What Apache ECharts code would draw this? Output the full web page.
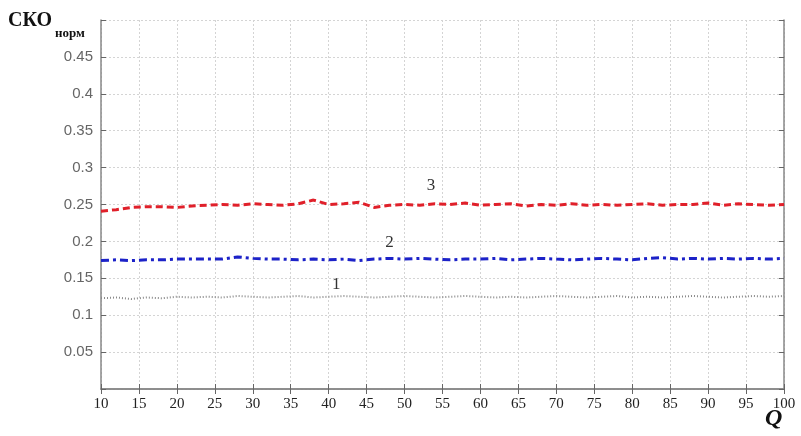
<!DOCTYPE html>
<html>
<head>
<meta charset="utf-8">
<script src="https://cdn.jsdelivr.net/npm/echarts@6/dist/echarts.min.js"></script>
<style>
  html, body { margin: 0; padding: 0; background: #fff; }
  #main { width: 801px; height: 436px; }
</style>
</head>
<body>
<div id="main"></div>
<script>
// значения Q
var qValues = [10, 12, 14, 16, 18, 20, 22, 24, 26, 28, 30, 32, 34, 36, 38, 40, 42, 44, 46, 48,
  50, 52, 54, 56, 58, 60, 62, 64, 66, 68, 70, 72, 74, 76, 78, 80, 82, 84, 86, 88,
  90, 92, 94, 96, 98, 100];
// кривая 1
var curve1 = [0.123, 0.124, 0.122, 0.124, 0.123, 0.125, 0.124, 0.125, 0.124, 0.126, 0.125, 0.124,
  0.125, 0.126, 0.124, 0.125, 0.126, 0.125, 0.124, 0.125, 0.126, 0.125, 0.124, 0.125, 0.126,
  0.125, 0.124, 0.125, 0.124, 0.125, 0.126, 0.125, 0.124, 0.125, 0.126, 0.124, 0.125, 0.124,
  0.125, 0.126, 0.125, 0.124, 0.125, 0.126, 0.125, 0.126];
// кривая 2
var curve2 = [0.174, 0.175, 0.174, 0.175, 0.175, 0.176, 0.176, 0.176, 0.176, 0.179, 0.177, 0.176,
  0.176, 0.175, 0.176, 0.175, 0.176, 0.174, 0.176, 0.177, 0.176, 0.177, 0.176, 0.175, 0.176,
  0.176, 0.177, 0.175, 0.176, 0.177, 0.176, 0.175, 0.176, 0.177, 0.176, 0.175, 0.177, 0.178,
  0.176, 0.177, 0.176, 0.177, 0.176, 0.177, 0.176, 0.177];
// кривая 3
var curve3 = [0.241, 0.243, 0.246, 0.247, 0.247, 0.246, 0.248, 0.249, 0.250, 0.249, 0.251, 0.250,
  0.249, 0.251, 0.256, 0.250, 0.251, 0.253, 0.246, 0.249, 0.250, 0.249, 0.251, 0.250, 0.252,
  0.249, 0.250, 0.251, 0.248, 0.250, 0.249, 0.251, 0.249, 0.250, 0.249, 0.250, 0.251, 0.249,
  0.250, 0.250, 0.252, 0.249, 0.251, 0.250, 0.249, 0.250];
var curveNames = ['1', '2', '3'];
// подписи кривых [Q, СКО]
var labelPos = [[41, 0.141], [48, 0.199], [53.5, 0.276]];

function pairs(ys) {
  return qValues.map(function (q, i) { return [q, ys[i]]; });
}

var font = '"Liberation Serif", "DejaVu Serif", serif';
var sans = '"Liberation Sans", Arial, sans-serif';
var axisLine = { show: true, lineStyle: { color: '#888', width: 1.5 } };
var axisTick = { show: true, inside: true, length: 5, lineStyle: { color: '#666' } };
var split = { show: true, lineStyle: { color: '#d4d4d4', type: [2, 2], width: 1 } };

function markFor(i) {
  return {
    silent: true,
    symbol: 'circle',
    symbolSize: 0,
    label: { show: true, position: 'inside', formatter: curveNames[i],
      fontFamily: font, fontSize: 17, color: '#333' },
    data: [{ coord: labelPos[i] }]
  };
}

var myChart = echarts.init(document.getElementById('main'));
var option = {
  animation: false,
  grid: { left: 101, right: 17, top: 20, bottom: 47 },
  xAxis: [{
    type: 'value', min: 10, max: 100, interval: 5,
    axisLine: axisLine, axisTick: axisTick, splitLine: split,
    axisLabel: { fontFamily: font, fontSize: 15, color: '#222', margin: 8 }
  }, {
    type: 'value', position: 'top', min: 10, max: 100, interval: 5,
    axisLine: axisLine, axisTick: axisTick, splitLine: { show: false },
    axisLabel: { show: false }
  }],
  yAxis: [{
    type: 'value', min: 0, max: 0.5, interval: 0.05,
    axisLine: axisLine, axisTick: axisTick, splitLine: split,
    axisLabel: {
      fontFamily: sans, fontSize: 15, color: '#666', margin: 8,
      formatter: function (v) {
        if (v < 0.01 || v > 0.49) return '';
        return String(+v.toFixed(2));
      }
    }
  }, {
    type: 'value', position: 'right', min: 0, max: 0.5, interval: 0.05,
    axisLine: axisLine, axisTick: axisTick, splitLine: { show: false },
    axisLabel: { show: false }
  }],
  graphic: [{
    type: 'text', left: 8, top: 11,
    style: {
      text: '{a|СКО}{b|норм}',
      rich: {
        a: { fontFamily: font, fontSize: 20, fontWeight: 'bold', fill: '#111' },
        b: { fontFamily: font, fontSize: 13, fontWeight: 'bold', fill: '#111', padding: [26, 0, 0, 3] }
      }
    }
  }, {
    type: 'text', left: 765, top: 407,
    style: { text: 'Q', fontFamily: font, fontSize: 24, fontWeight: 'bold', fontStyle: 'italic', fill: '#111' }
  }],
  series: [{
    name: '1', type: 'line', data: pairs(curve1), symbol: 'none',
    lineStyle: { color: '#8a8a8a', width: 2, type: [1, 2] },
    markPoint: markFor(0)
  }, {
    name: '2', type: 'line', data: pairs(curve2), symbol: 'none',
    lineStyle: { color: '#1c22c8', width: 3, type: [8, 4, 3, 4] },
    markPoint: markFor(1)
  }, {
    name: '3', type: 'line', data: pairs(curve3), symbol: 'none',
    lineStyle: { color: '#e0202a', width: 3, type: [7, 4] },
    markPoint: markFor(2)
  }]
};
myChart.setOption(option);
</script>
</body>
</html>
